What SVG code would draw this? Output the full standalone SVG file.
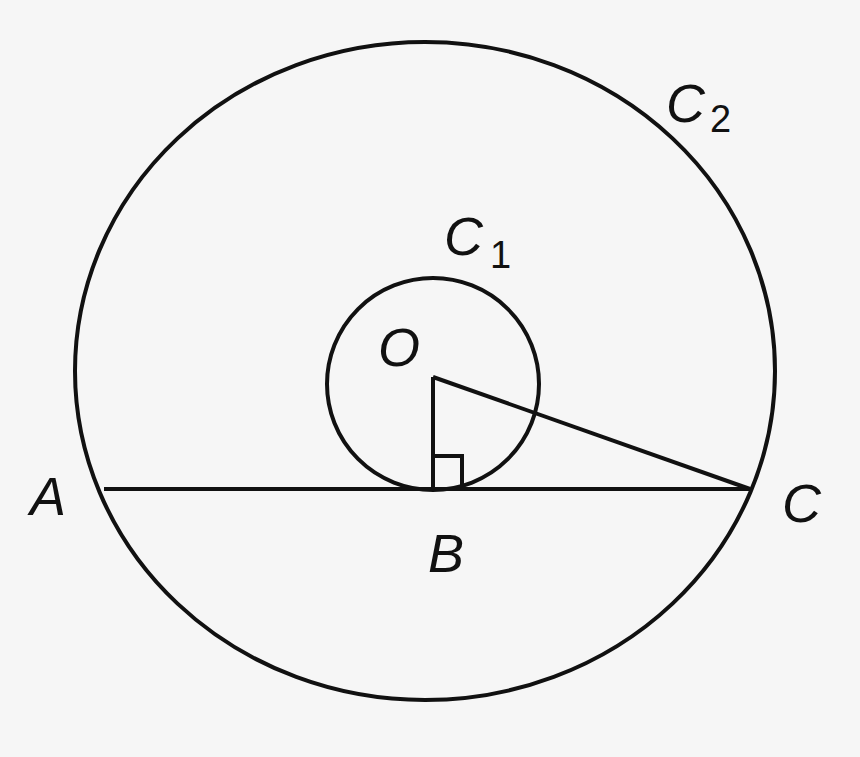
<svg xmlns="http://www.w3.org/2000/svg" width="860" height="757" viewBox="0 0 860 757">
<style>
.l{fill:none;stroke:#111;stroke-width:4}
.t{font-family:"Liberation Sans",Arial,sans-serif;font-size:54px;fill:#111;font-style:italic}
.s{font-family:"Liberation Sans",Arial,sans-serif;font-size:38px;fill:#111}
</style>
<rect width="860" height="757" fill="#f6f6f6"/>
<g id="C2"><ellipse class="l" cx="425" cy="371" rx="350" ry="329"/></g>
<g id="C1"><circle class="l" cx="433" cy="384" r="106"/></g>
<g id="connectors">
<line class="l" x1="104" y1="489" x2="750" y2="489"/>
<line class="l" x1="433" y1="377" x2="433" y2="489"/>
<line class="l" x1="433" y1="377" x2="750" y2="489"/>
<polyline class="l" points="433,456 462,456 462,489"/>
</g>
<g id="labels">
<text class="t" x="666" y="122">C</text><text class="s" x="710" y="132">2</text>
<text class="t" x="444" y="255">C</text><text class="s" x="490" y="268">1</text>
<text class="t" x="378" y="366">O</text>
<text class="t" x="30" y="515">A</text>
<text class="t" x="428" y="572">B</text>
<text class="t" x="782" y="522">C</text>
</g>
</svg>
